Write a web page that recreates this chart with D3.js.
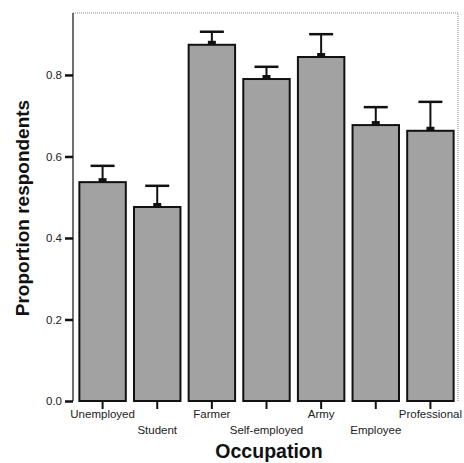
<!DOCTYPE html>
<html>
<head>
<meta charset="utf-8">
<script src="https://cdn.jsdelivr.net/npm/d3@7"></script>
<style>
  body { margin: 0; background: #fff; }
  text { font-family: "Liberation Sans", Arial, sans-serif; }
</style>
</head>
<body>
<div id="chart"></div>
<script>
// values
var occupations = ["Unemployed", "Student", "Farmer", "Self-employed", "Army", "Employee", "Professional"];
var proportions = [0.537, 0.476, 0.874, 0.790, 0.844, 0.677, 0.663];
var upperErr = [0.577, 0.528, 0.906, 0.820, 0.900, 0.721, 0.734];
var yTicks = [0.0, 0.2, 0.4, 0.6, 0.8];

var width = 464, height = 463;
var margin = {top: 13, right: 6, bottom: 62, left: 73};

var svg = d3.select("#chart").append("svg")
    .attr("width", width)
    .attr("height", height);

var x = d3.scaleBand()
    .domain(occupations)
    .range([margin.left + 2, width - margin.right])
    .paddingInner(0.15)
    .paddingOuter(0.08);

var y = d3.scaleLinear()
    .domain([0, 0.952])
    .range([height - margin.bottom, margin.top]);

// dotted frame top and right
svg.append("path")
    .attr("d", "M" + margin.left + "," + margin.top + "H" + (width - margin.right) + "V" + y(0))
    .attr("fill", "none")
    .attr("stroke", "#888")
    .attr("stroke-width", 1)
    .attr("stroke-dasharray", "1,1");

// bars
svg.selectAll("rect.bar")
    .data(occupations)
    .enter().append("rect")
    .attr("class", "bar")
    .attr("x", function(d) { return x(d); })
    .attr("y", function(d, i) { return y(proportions[i]); })
    .attr("width", x.bandwidth())
    .attr("height", function(d, i) { return y(0) - y(proportions[i]); })
    .attr("fill", "#a2a2a2")
    .attr("stroke", "#111")
    .attr("stroke-width", 2);

// error bars
var err = svg.selectAll("g.err")
    .data(occupations)
    .enter().append("g")
    .attr("class", "err");

err.append("line")
    .attr("x1", function(d) { return x(d) + x.bandwidth() / 2; })
    .attr("x2", function(d) { return x(d) + x.bandwidth() / 2; })
    .attr("y1", function(d, i) { return y(proportions[i]); })
    .attr("y2", function(d, i) { return y(upperErr[i]); })
    .attr("stroke", "#111")
    .attr("stroke-width", 2);

err.append("line")
    .attr("x1", function(d) { return x(d) + x.bandwidth() / 2 - 12; })
    .attr("x2", function(d) { return x(d) + x.bandwidth() / 2 + 12; })
    .attr("y1", function(d, i) { return y(upperErr[i]); })
    .attr("y2", function(d, i) { return y(upperErr[i]); })
    .attr("stroke", "#111")
    .attr("stroke-width", 2.5);

err.append("rect")
    .attr("x", function(d) { return x(d) + x.bandwidth() / 2 - 4; })
    .attr("y", function(d, i) { return y(proportions[i]) - 4; })
    .attr("width", 8)
    .attr("height", 4)
    .attr("fill", "#111");

// y axis
var yAxis = d3.axisLeft(y)
    .tickValues(yTicks)
    .tickFormat(d3.format(".1f"))
    .tickSize(8)
    .tickPadding(3);

var gy = svg.append("g")
    .attr("transform", "translate(" + margin.left + ",0)")
    .call(yAxis);
gy.select(".domain")
    .attr("d", "M0," + margin.top + "V" + y(0))
    .attr("stroke", "#111")
    .attr("stroke-width", 1.2);
gy.selectAll(".tick line").attr("stroke", "#111").attr("stroke-width", 2.5);
gy.selectAll(".tick text")
    .attr("fill", "#222")
    .style("font-size", "11.5px")
    .style("font-family", "Liberation Sans, Arial, sans-serif");

// x axis with staggered labels
var xAxis = d3.axisBottom(x).tickSize(8).tickSizeOuter(0);
var gx = svg.append("g")
    .attr("transform", "translate(0," + y(0) + ")")
    .call(xAxis);
gx.select(".domain").remove();
gx.selectAll(".tick line").attr("stroke", "#111").attr("stroke-width", 2);
gx.selectAll(".tick text")
    .attr("fill", "#222")
    .attr("dy", null)
    .attr("y", function(d, i) { return i % 2 === 0 ? 17 : 33; })
    .style("font-size", "11.5px")
    .style("font-family", "Liberation Sans, Arial, sans-serif");

// axis titles
svg.append("text")
    .attr("x", 269)
    .attr("y", 458)
    .attr("text-anchor", "middle")
    .style("font-size", "19.5px")
    .style("font-weight", "bold")
    .attr("fill", "#111")
    .text("Occupation");

svg.append("text")
    .attr("transform", "translate(29," + 208 + ") rotate(-90)")
    .attr("text-anchor", "middle")
    .style("font-size", "19px")
    .style("font-weight", "bold")
    .attr("fill", "#111")
    .text("Proportion respondents");
</script>
</body>
</html>
